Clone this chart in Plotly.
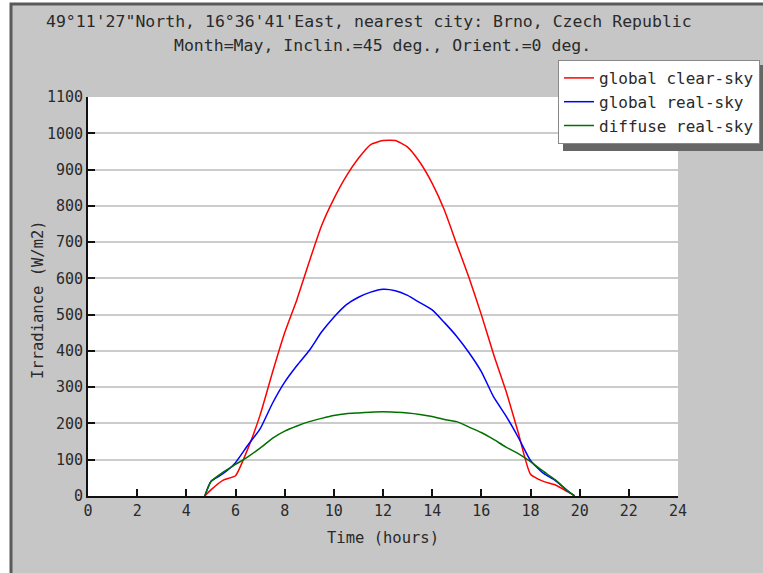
import plotly.graph_objects as go

hours = [4.75, 5.0, 5.5, 6.0, 6.5, 7.0, 7.5, 8.0, 8.5, 9.0, 9.5, 10.0, 10.5, 11.0, 11.5,
         12.0, 12.5, 13.0, 13.5, 14.0, 14.5, 15.0, 15.5, 16.0, 16.5, 17.0, 17.5, 18.0,
         18.5, 19.0, 19.5, 19.8]
global_clear_sky = [0, 17, 44, 56, 130, 223, 340, 450, 542, 646, 745, 819, 881, 931, 969,
                    980, 980, 962, 920, 862, 788, 694, 602, 500, 390, 290, 175, 60,
                    41, 31, 12, 0]
global_real_sky = [0, 40, 62, 92, 140, 185, 255, 314, 360, 401, 452, 493, 527, 548, 562,
                   570, 566, 553, 533, 513, 478, 440, 395, 343, 273, 221, 162, 98,
                   64, 43, 15, 0]
diffuse_real_sky = [0, 40, 66, 87, 108, 132, 159, 179, 193, 205, 214, 222, 227, 229, 231,
                    232, 231, 229, 225, 219, 211, 205, 190, 175, 156, 135, 117, 95,
                    69, 45, 15, 0]

x_ticks = list(range(0, 25, 2))
y_ticks = list(range(0, 1101, 100))

title_lines = ["49°11'27\"North, 16°36'41'East, nearest city: Brno, Czech Republic",
               "Month=May, Inclin.=45 deg., Orient.=0 deg."]

FONT = "DejaVu Sans Mono"
W, H = 763, 573
L, R, T, B = 88, 678, 97, 496  # plot area pixels
TXT = "#2a2a2a"


def px_x(p):
    return (p - L) / (R - L)


def px_y(p):
    return (B - p) / (B - T)


line_shape = dict(shape="spline", smoothing=0.5)

fig = go.Figure()
fig.add_trace(go.Scatter(x=hours, y=global_clear_sky, mode="lines", name="global clear-sky",
                         line=dict(color="#ff0000", width=1.5, **line_shape)))
fig.add_trace(go.Scatter(x=hours, y=global_real_sky, mode="lines", name="global real-sky",
                         line=dict(color="#0000ff", width=1.5, **line_shape)))
fig.add_trace(go.Scatter(x=hours, y=diffuse_real_sky, mode="lines", name="diffuse real-sky",
                         line=dict(color="#007000", width=1.5, **line_shape)))

shapes = [
    # gray panel with dark left/top border
    dict(type="rect", xref="paper", yref="paper", layer="below",
         x0=px_x(11), x1=px_x(780), y0=px_y(590), y1=px_y(4),
         fillcolor="#c6c6c6", line=dict(color="#5a5a5a", width=3)),
    # white plotting area
    dict(type="rect", xref="paper", yref="paper", layer="below",
         x0=0, x1=1, y0=0, y1=1, fillcolor="#ffffff", line=dict(width=0)),
    # legend shadow
    dict(type="rect", xref="paper", yref="paper", layer="above",
         x0=px_x(563), x1=px_x(770), y0=px_y(151), y1=px_y(65),
         fillcolor="#666666", line=dict(width=0)),
]

annotations = [
    dict(text=title_lines[0], xref="paper", yref="paper", x=px_x(369), y=px_y(22),
         xanchor="center", yanchor="middle", showarrow=False,
         font=dict(family=FONT, size=16.5, color=TXT)),
    dict(text=title_lines[1], xref="paper", yref="paper", x=px_x(382), y=px_y(46),
         xanchor="center", yanchor="middle", showarrow=False,
         font=dict(family=FONT, size=16.5, color=TXT)),
    dict(text="Irradiance (W/m2)", textangle=-90, xref="paper", yref="paper",
         x=px_x(38), y=px_y(300), xanchor="center", yanchor="middle",
         showarrow=False, font=dict(family=FONT, size=15.5, color=TXT)),
]

fig.update_layout(
    width=W, height=H,
    margin=dict(l=L, r=W - R, t=T, b=H - B, autoexpand=False),
    paper_bgcolor="#ffffff",
    plot_bgcolor="#ffffff",
    font=dict(family=FONT, size=15, color=TXT),
    shapes=shapes,
    annotations=annotations,
    showlegend=True,
    legend=dict(x=px_x(558), y=px_y(60), xanchor="left", yanchor="top",
                bgcolor="#ffffff", bordercolor="#888888", borderwidth=1,
                font=dict(family=FONT, size=16, color=TXT),
                itemwidth=30, tracegroupgap=0),
    xaxis=dict(range=[0, 24], tickmode="array", tickvals=x_ticks,
               ticktext=[str(v) for v in x_ticks],
               ticks="inside", ticklen=7, tickwidth=2, tickcolor="#111111",
               showline=True, linecolor="#111111", linewidth=2, mirror=False,
               showgrid=False, zeroline=False,
               title=dict(text="Time (hours)", standoff=13,
                          font=dict(family=FONT, size=15.5, color=TXT)),
               tickfont=dict(family=FONT, size=15, color=TXT)),
    yaxis=dict(range=[0, 1100], tickmode="array", tickvals=y_ticks,
               ticktext=[str(v) for v in y_ticks],
               ticks="inside", ticklen=7, tickwidth=2, tickcolor="#111111",
               showline=True, linecolor="#111111", linewidth=2, mirror=False,
               showgrid=True, gridcolor="#cccccc", gridwidth=1.5, zeroline=False,
               tickfont=dict(family=FONT, size=15, color=TXT)),
)

fig.write_html("out.html", config={"displayModeBar": False},
               post_script="document.body.style.margin='0';document.body.style.overflow='hidden';")
